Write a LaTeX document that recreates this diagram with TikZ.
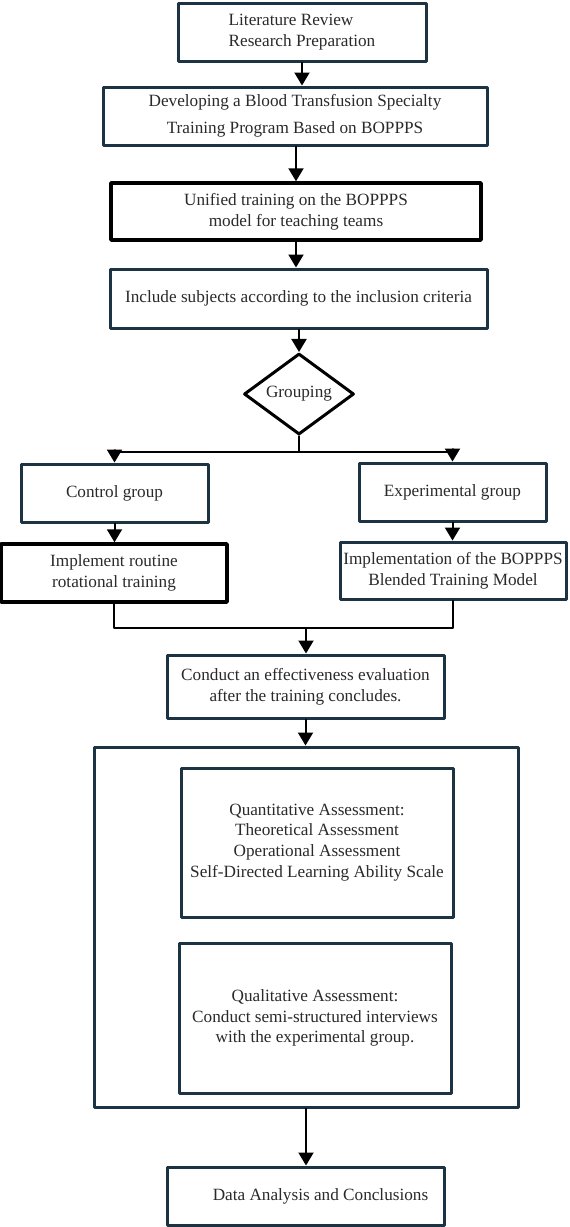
\documentclass[tikz,border=0pt]{standalone}
\usepackage{fontspec}
\setmainfont{Liberation Serif}
\usetikzlibrary{arrows.meta,shapes.geometric,calc}
\definecolor{boxline}{HTML}{1C3344}
\definecolor{txtgray}{HTML}{2A2A2A}

\begin{document}
\begin{tikzpicture}[line cap=round,line join=round,x=0.5pt,y=-0.5pt,
    box/.style={draw=boxline,line width=1.5pt,fill=white,text=txtgray,align=center,inner sep=0pt,font=\fontsize{8.6}{10.4}\selectfont},
    blackbox/.style={box,draw=black,line width=1.75pt},
    arr/.style={-{Triangle[width=7.5pt,length=6.5pt]},line width=1pt},
    conn/.style={line width=1pt}]
    \useasboundingbox (0,0) rectangle (569,1227);
    % top column
    \node[box,align=left,minimum width=124pt,minimum height=29pt] (lit) at (302,32) {Literature Review\\Research Preparation};
    \node[box,minimum width=192pt,minimum height=29pt] (dev) at (295,116) {Developing a Blood Transfusion Specialty\\[3pt]Training Program Based on BOPPPS};
    \node[blackbox,minimum width=185pt,minimum height=28.5pt] (uni) at (296,211.5) {Unified training on the BOPPPS\\model for teaching teams};
    \node[box,minimum width=188.5pt,minimum height=29.5pt] (incl) at (298.5,298.5) {Include subjects according to the inclusion criteria};
    \node[box,draw=black,diamond,minimum width=55pt,minimum height=37pt] (grp) at (299,394) {Grouping};
    % two branches
    \node[box,minimum width=93.5pt,minimum height=29pt] (ctrl) at (114.5,493) {Control group};
    \node[box,minimum width=93.5pt,minimum height=29pt] (exp) at (452.5,492) {Experimental group};
    \node[blackbox,minimum width=113pt,minimum height=29pt] (rout) at (114,573) {Implement routine\\rotational training};
    \node[box,minimum width=113pt,minimum height=28.5pt] (bopp) at (453,570.5) {Implementation of the BOPPPS\\Blended Training Model};
    % evaluation
    \node[box,minimum width=138.5pt,minimum height=31.5pt] (eval) at (305.5,686.5) {Conduct an effectiveness evaluation\\after the training concludes.};
    \node[box,minimum width=212pt,minimum height=180pt] (outer) at (306,927) {};
    \node[box,minimum width=136pt,minimum height=74.5pt] (quant) at (317,842.5) {Quantitative Assessment:\\Theoretical Assessment\\Operational Assessment\\Self-Directed Learning Ability Scale};
    \node[box,minimum width=136pt,minimum height=75pt] (qual) at (315,1018) {Qualitative Assessment:\\Conduct semi-structured interviews\\with the experimental group.};
    \node[box,minimum width=138.5pt,minimum height=29pt] (data) at (305.5,1196) {\hspace*{15pt}Data Analysis and Conclusions};
    % connectors
    \draw[arr] (lit.south) -- (lit.south |- dev.north);
    \draw[arr] (uni.north |- dev.south) -- (uni.north);
    \draw[arr] (uni.south) -- (uni.south |- incl.north);
    \draw[arr] (grp.north |- incl.south) -- (grp.north);
    \draw[conn] (grp.south) -- ++(0,16) coordinate (fork);
    \draw[arr] (fork) -| (ctrl.north);
    \draw[arr] (fork) -| (exp.north);
    \draw[arr] (ctrl.south) -- (ctrl.south |- rout.north);
    \draw[arr] (exp.south) -- (exp.south |- bopp.north);
    \coordinate (join) at (306,628);
    \draw[conn] (rout.south) |- (join);
    \draw[conn] (bopp.south) |- (join);
    \draw[arr] (join) -- (join |- eval.north);
    \draw[arr] (eval.south) -- (eval.south |- outer.north);
    \draw[arr] (outer.south) -- (outer.south |- data.north);
\end{tikzpicture}
\end{document}
